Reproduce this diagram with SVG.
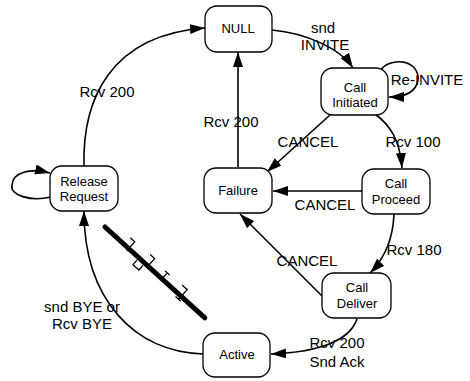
<svg xmlns="http://www.w3.org/2000/svg" width="470" height="381" viewBox="0 0 470 381">
<defs>
<style>
.node rect{fill:#fff;stroke:#000;stroke-width:1.3}
.node text{font-family:"Liberation Sans",Arial,sans-serif;font-size:13px;fill:#000;text-anchor:middle}
.conn path{fill:none;stroke:#000;stroke-width:1.6}
.lbl{font-family:"Liberation Sans",Arial,sans-serif;font-size:15px;fill:#000;text-anchor:middle}
</style>
<marker id="ah" markerUnits="userSpaceOnUse" markerWidth="16" markerHeight="12" refX="15" refY="5" orient="auto">
<path d="M0,0 L15,5 L0,10 Z" fill="#000"/>
</marker>
</defs>
<rect width="470" height="381" fill="#fff"/>
<g id="connectors" class="conn">
<path d="M84,167 C82,100 110,35 205,28" marker-end="url(#ah)"/>
<path d="M51,197 C30,202 10,195 12,185 C13,172 30,168 50,173" marker-end="url(#ah)"/>
<path d="M272,30 C305,33 340,48 353,68" marker-end="url(#ah)"/>
<path d="M379,72 C390,55 420,60 418,80 C416,92 405,97 389,97" marker-end="url(#ah)"/>
<path d="M330,115 L267,172" marker-end="url(#ah)"/>
<path d="M375,114 C390,125 400,140 402,168" marker-end="url(#ah)"/>
<path d="M362,191 L273,191" marker-end="url(#ah)"/>
<path d="M394,214 C393,240 385,258 370,273" marker-end="url(#ah)"/>
<path d="M322,296 L240,214" marker-end="url(#ah)"/>
<path d="M238,167 L238,52" marker-end="url(#ah)"/>
<path d="M357,319 C350,340 320,352 271,354" marker-end="url(#ah)"/>
<path d="M203,354 C135,352 84,300 84,211" marker-end="url(#ah)"/>
</g>
<g id="strike" transform="translate(105,227) rotate(42.3)">
<path d="M0,0 L135,0" stroke="#000" stroke-width="5" stroke-linecap="round" fill="none"/>
<path d="M26,-9 L32,-9 L32,3 M46,3 L46,9 L54,9 L54,3 M52,-10 L58,-10 L58,2 M74,-8 L80,-8 M77,-8 L77,2 M96,-9 L103,-9 L103,4 M99,4 L106,4" stroke="#000" stroke-width="1.3" fill="none"/>
</g>
<g id="lbls">
<text class="lbl" x="107" y="97">Rcv 200</text>
<text class="lbl" x="231" y="127">Rcv 200</text>
<text class="lbl" x="323" y="33">snd</text>
<text class="lbl" x="325" y="50">INVITE</text>
<text class="lbl" x="427" y="85">Re-INVITE</text>
<text class="lbl" x="308" y="147">CANCEL</text>
<text class="lbl" x="413" y="147">Rcv 100</text>
<text class="lbl" x="325" y="210">CANCEL</text>
<text class="lbl" x="414" y="255">Rcv 180</text>
<text class="lbl" x="307" y="266">CANCEL</text>
<text class="lbl" x="337" y="348">Rcv 200</text>
<text class="lbl" x="337" y="367">Snd Ack</text>
<text class="lbl" x="82" y="312">snd BYE or</text>
<text class="lbl" x="82" y="329">Rcv BYE</text>
</g>
<g id="n-null" class="node"><rect x="205" y="6" width="67" height="46" rx="12"/><text x="238" y="33">NULL</text></g>
<g id="n-init" class="node"><rect x="321" y="68" width="67" height="47" rx="12"/><text x="355" y="92">Call</text><text x="355" y="107">Initiated</text></g>
<g id="n-rel" class="node"><rect x="50" y="166" width="68" height="45" rx="12"/><text x="84" y="186">Release</text><text x="84" y="201">Request</text></g>
<g id="n-fail" class="node"><rect x="204" y="168" width="68" height="45" rx="12"/><text x="238" y="195">Failure</text></g>
<g id="n-proc" class="node"><rect x="362" y="169" width="68" height="45" rx="12"/><text x="396" y="188">Call</text><text x="396" y="204">Proceed</text></g>
<g id="n-deliv" class="node"><rect x="322" y="273" width="69" height="45" rx="12"/><text x="357" y="292">Call</text><text x="357" y="308">Deliver</text></g>
<g id="n-active" class="node"><rect x="203" y="333" width="67" height="44" rx="12"/><text x="237" y="359">Active</text></g>
</svg>
